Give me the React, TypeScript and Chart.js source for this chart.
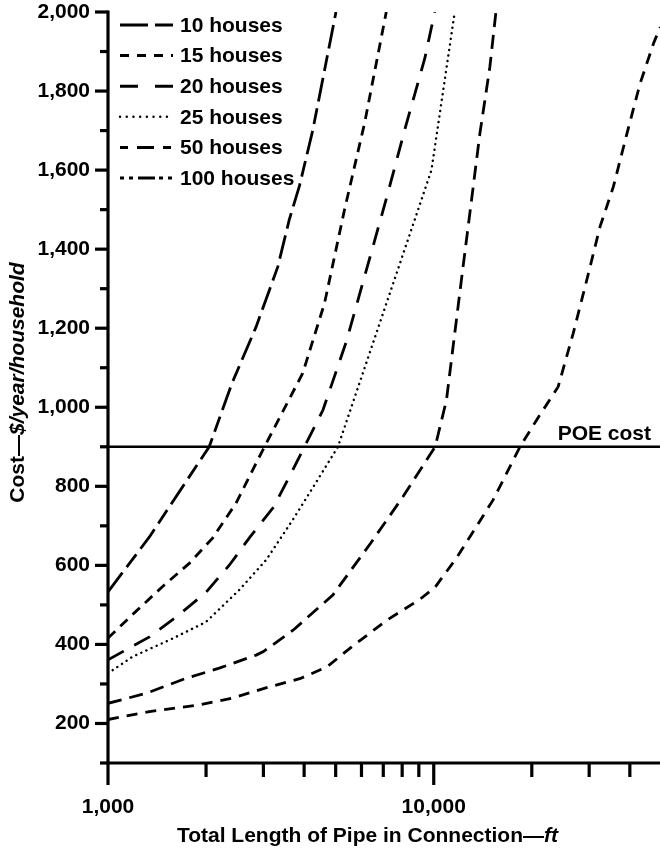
import React, { useEffect, useRef } from 'react';
import { Chart, registerables } from 'chart.js';

Chart.register(...registerables);

// ---- axis ticks ----
const xTickValues = [1000, 2000, 3000, 4000, 5000, 6000, 7000, 8000, 9000, 10000, 20000, 30000, 40000];
const xLabeledTicks = [1000, 10000];
const yTickValues = [100, 200, 300, 400, 500, 600, 700, 800, 900, 1000, 1100, 1200, 1300, 1400, 1500, 1600, 1700, 1800, 1900, 2000];
const xMin = 1000;
const xMax = 49500;
const yMin = 100;
const yMax = 2000;

const xTitleMain = 'Total Length of Pipe in Connection\u2014';
const xTitleUnit = 'ft';
const yTitleMain = 'Cost\u2014';
const yTitleUnit = '$/year/household';

// ---- series ----
const seriesLabels = ['10 houses', '15 houses', '20 houses', '25 houses', '50 houses', '100 houses'];

const houses10X = [1000, 1340, 1670, 2045, 2400, 2850, 3320, 3600, 3870, 4250, 5010];
const houses10Y = [533, 672, 791, 900, 1060, 1204, 1355, 1474, 1560, 1700, 2000];

const houses15X = [1000, 1216, 1469, 1776, 2094, 2470, 3000, 3960, 4620, 5320, 6130, 7150];
const houses15Y = [416, 483, 546, 605, 669, 757, 895, 1086, 1263, 1499, 1718, 2000];

const houses20X = [1000, 1340, 1640, 2000, 2360, 2730, 3220, 3650, 4010, 4570, 5390, 6210, 7150, 8140, 9390, 10070];
const houses20Y = [361, 419, 473, 532, 601, 672, 747, 833, 900, 993, 1166, 1347, 1527, 1701, 1883, 2000];

const houses25X = [1000, 1190, 1580, 2000, 2530, 3060, 3690, 4460, 5080, 9840, 11600];
const houses25Y = [327, 369, 415, 457, 538, 614, 715, 824, 900, 1600, 2000];

const houses50X = [1000, 1306, 1733, 2195, 2850, 3000, 3700, 4900, 6400, 8050, 10100, 10940, 11600, 12300, 13060, 13860, 14870, 15520];
const houses50Y = [251, 276, 314, 340, 373, 382, 436, 525, 656, 774, 900, 1018, 1187, 1355, 1524, 1693, 1861, 2000];

const houses100X = [1000, 1340, 1900, 2400, 3050, 3900, 4700, 5600, 7200, 9100, 10100, 11800, 15200, 18400, 20700, 24100, 26800, 29500, 32400, 35600, 39200, 43000, 47300, 49600];
const houses100Y = [210, 230, 247, 264, 290, 314, 343, 394, 462, 515, 545, 621, 765, 900, 968, 1052, 1187, 1322, 1457, 1558, 1693, 1819, 1921, 1962];

const poeX = [1000, 49500];
const poeY = [900, 900];
const poeLabel = 'POE cost';

export default function App() {
  const ref = useRef<HTMLCanvasElement>(null);

  useEffect(() => {
    const canvas = ref.current;
    if (!canvas) return;
    const FONT = '"Liberation Sans", Arial, Helvetica, sans-serif';
    const FS = 21;
    const toPts = (xs: number[], ys: number[]) => xs.map((x, i) => ({ x, y: ys[i] }));
    const seriesX = [houses10X, houses15X, houses20X, houses25X, houses50X, houses100X];
    const seriesY = [houses10Y, houses15Y, houses20Y, houses25Y, houses50Y, houses100Y];
    const lineDash = [[24, 7, 16, 7], [10, 7], [18, 12], [0.1, 5.5], [14, 8], [11, 8]];
    const legendDash = [[28, 7], [9, 8], [18, 17], [0.1, 6.6], [8, 9, 17, 9], [4, 5, 4, 5, 17, 4, 4, 5]];

    const datasets: any[] = seriesLabels.map((label, i) => ({
      label,
      data: toPts(seriesX[i], seriesY[i]),
      borderColor: '#000',
      borderWidth: i === 3 ? 2.4 : 2.8,
      borderDash: lineDash[i],
      borderCapStyle: i === 3 ? 'round' : 'butt',
      pointRadius: 0,
      tension: 0,
      fill: false,
    }));
    datasets.push({
      label: poeLabel,
      data: toPts(poeX, poeY),
      borderColor: '#000',
      borderWidth: 2.6,
      pointRadius: 0,
      tension: 0,
      fill: false,
    });

    const decor = {
      id: 'decor',
      afterDatasetsDraw(chart: any) {
        const { ctx, chartArea: ca } = chart;
        const xs = chart.scales.x;
        const ys = chart.scales.y;
        ctx.save();
        ctx.strokeStyle = '#000';
        ctx.fillStyle = '#000';
        ctx.setLineDash([]);
        ctx.lineCap = 'butt';
        ctx.lineWidth = 3.2;
        // axes
        ctx.beginPath();
        ctx.moveTo(ca.left, ca.top - 1.5);
        ctx.lineTo(ca.left, ca.bottom + 1.5);
        ctx.stroke();
        ctx.beginPath();
        ctx.moveTo(ca.left - 1.5, ca.bottom);
        ctx.lineTo(ca.right, ca.bottom);
        ctx.stroke();
        // y ticks
        yTickValues.forEach((v) => {
          const py = ys.getPixelForValue(v);
          const len = v % 200 === 0 ? 13 : 8;
          ctx.beginPath();
          ctx.moveTo(ca.left, py);
          ctx.lineTo(ca.left - len, py);
          ctx.stroke();
        });
        // x ticks
        xTickValues.forEach((v) => {
          const px = xs.getPixelForValue(v);
          const len = xLabeledTicks.includes(v) ? 22 : 14;
          ctx.beginPath();
          ctx.moveTo(px, ca.bottom);
          ctx.lineTo(px, ca.bottom + len);
          ctx.stroke();
        });
        // legend
        const lx0 = ca.left + 12;
        const lx1 = ca.left + 65;
        ctx.font = `bold ${FS}px ${FONT}`;
        ctx.textBaseline = 'middle';
        ctx.textAlign = 'left';
        seriesLabels.forEach((label, i) => {
          const ly = ca.top + 13 + i * 30.6;
          ctx.save();
          ctx.lineWidth = i === 3 ? 2.4 : 3;
          ctx.lineCap = i === 3 ? 'round' : 'butt';
          ctx.setLineDash(legendDash[i]);
          ctx.beginPath();
          ctx.moveTo(lx0, ly);
          ctx.lineTo(lx1, ly);
          ctx.stroke();
          ctx.restore();
          ctx.fillText(label, ca.left + 72, ly + 1);
        });
        // POE label
        ctx.textAlign = 'right';
        ctx.textBaseline = 'alphabetic';
        ctx.fillText(poeLabel, ca.right - 9, ys.getPixelForValue(poeY[0]) - 7);
        // x title
        const boldF = `bold ${FS}px ${FONT}`;
        const italF = `italic bold ${FS}px ${FONT}`;
        ctx.font = boldF;
        const w1 = ctx.measureText(xTitleMain).width;
        ctx.font = italF;
        const w2 = ctx.measureText(xTitleUnit).width;
        const cx = ca.left + (ca.right - ca.left) * 0.47;
        const tx = cx - (w1 + w2) / 2;
        ctx.textAlign = 'left';
        ctx.textBaseline = 'middle';
        ctx.font = boldF;
        ctx.fillText(xTitleMain, tx, 836);
        ctx.font = italF;
        ctx.fillText(xTitleUnit, tx + w1, 836);
        // y title
        ctx.font = boldF;
        const v1 = ctx.measureText(yTitleMain).width;
        ctx.font = italF;
        const v2 = ctx.measureText(yTitleUnit).width;
        const cy = (ca.top + ca.bottom) / 2 - 5;
        ctx.translate(18, cy);
        ctx.rotate(-Math.PI / 2);
        const ty = -(v1 + v2) / 2;
        ctx.font = boldF;
        ctx.fillText(yTitleMain, ty, 0);
        ctx.font = italF;
        ctx.fillText(yTitleUnit, ty + v1, 0);
        ctx.restore();
      },
    };

    const chart = new Chart(canvas, {
      type: 'line',
      data: { datasets },
      options: {
        animation: false,
        responsive: false,
        devicePixelRatio: 1,
        parsing: false as any,
        layout: { padding: { top: 12, left: 0, right: 0, bottom: 0 } },
        plugins: { legend: { display: false }, tooltip: { enabled: false }, title: { display: false } },
        scales: {
          x: {
            type: 'logarithmic',
            min: xMin,
            max: xMax,
            afterBuildTicks: (s: any) => {
              s.ticks = xTickValues.map((v) => ({ value: v }));
            },
            afterFit: (s: any) => {
              s.height = 91;
              s.paddingLeft = 0;
              s.paddingRight = 0;
            },
            grid: { display: true, drawOnChartArea: false, drawTicks: true, tickLength: 22, color: 'rgba(0,0,0,0)', tickColor: 'rgba(0,0,0,0)' },
            border: { display: false },
            ticks: {
              autoSkip: false,
              maxRotation: 0,
              padding: 10,
              color: '#000',
              font: { family: FONT, size: FS, weight: 'bold' },
              callback: (v: any) => {
                const n = Number(v);
                if (Math.abs(n - 1000) < 1) return '1,000';
                if (Math.abs(n - 10000) < 1) return '10,000';
                return '';
              },
            },
          },
          y: {
            type: 'linear',
            min: yMin,
            max: yMax,
            afterBuildTicks: (s: any) => {
              s.ticks = yTickValues.map((v) => ({ value: v }));
            },
            afterFit: (s: any) => {
              s.width = 108;
              s.paddingTop = 0;
              s.paddingBottom = 0;
            },
            grid: { display: true, drawOnChartArea: false, drawTicks: true, tickLength: 13, color: 'rgba(0,0,0,0)', tickColor: 'rgba(0,0,0,0)' },
            border: { display: false },
            ticks: {
              padding: 5,
              color: '#000',
              font: { family: FONT, size: FS, weight: 'bold', lineHeight: 1.0 },
              callback: (v: any) => {
                const n = Number(v);
                return n % 200 === 0 && n >= 200 ? n.toLocaleString('en-US') : '';
              },
            },
          },
        },
      },
      plugins: [decor],
    } as any);

    return () => chart.destroy();
  }, []);

  return (
    <div style={{ position: 'fixed', left: 0, top: 0, width: 660, height: 854, background: '#fff' }}>
      <canvas ref={ref} width={660} height={854} style={{ display: 'block', width: 660, height: 854 }} />
    </div>
  );
}
